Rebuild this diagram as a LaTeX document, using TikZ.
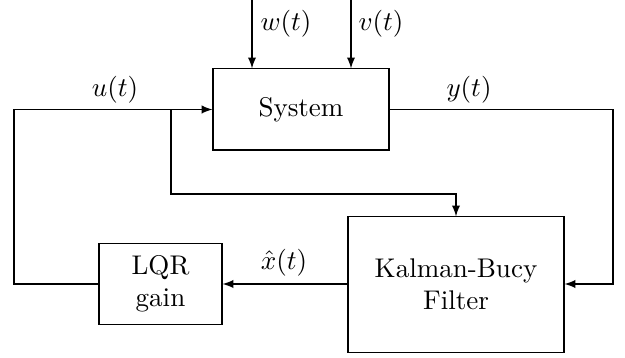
\documentclass[tikz,border=0pt]{standalone}
\usetikzlibrary{calc}
\begin{document}
\begin{tikzpicture}[x=0.37pt,y=-0.37pt,
  blk/.style={draw, inner sep=0pt, align=center},
  sig/.style={-latex, line width=0.4pt},
  lbl/.style={inner sep=0pt}]
\useasboundingbox (0,0) rectangle (625,358);
% blocks
\node[blk, minimum width=65.1pt, minimum height=30pt] (sys) at (301,109.5) {System};
\node[blk, minimum width=45.5pt, minimum height=30.3pt] (lqr) at (160.5,284) {LQR\\gain};
\node[blk, minimum width=79.9pt, minimum height=50pt] (kf) at (456,284.5) {Kalman-Bucy\\Filter};
% helper coordinates
\coordinate (wt) at (252,0);
\coordinate (vt) at (351,0);
\coordinate (cl) at (14,109.5);
\coordinate (br) at (171,109.5);
\coordinate (bk) at (456,194);
\coordinate (yr) at (613,109.5);
\coordinate (yb) at (613,284);
% connectors
\draw[sig] (wt) -- (wt |- sys.north);
\draw[sig] (vt) -- (vt |- sys.north);
\draw[sig] (lqr.west) -| (cl) -- (sys.west);
\draw[sig] (br) |- (bk) -- (kf.north);
\draw[sig] (sys.east) -- (yr) -- (yb) -- (yb -| kf.east);
\draw[sig] (lqr.east -| kf.west) -- (lqr.east);
% labels
\node[lbl] (lw) at (286,24) {$w(t)$};
\node[lbl] (lv) at (381,24) {$v(t)$};
\node[lbl] (lu) at (115,90) {$u(t)$};
\node[lbl] (ly) at (469,90) {$y(t)$};
\node[lbl] (lx) at (284,263) {$\hat{x}(t)$};
\end{tikzpicture}
\end{document}
